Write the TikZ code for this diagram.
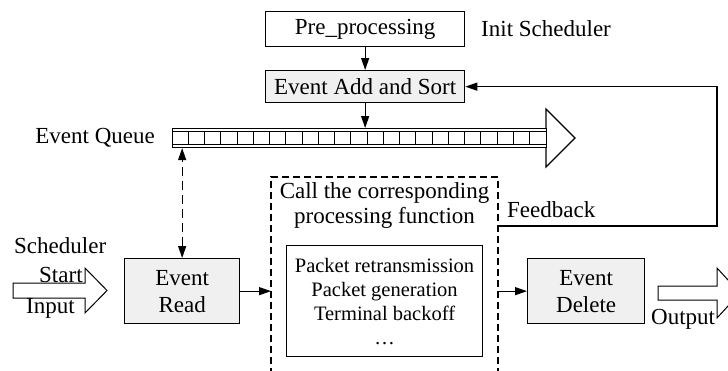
\documentclass[tikz,border=0pt]{standalone}
\usepackage{fontspec}
\setmainfont{Liberation Serif}
\usetikzlibrary{arrows.meta}
\definecolor{boxgray}{gray}{0.94}
\begin{document}
\begin{tikzpicture}[x=1pt,y=-1pt,
  every node/.style={font=\fontsize{23}{27}\selectfont, inner sep=0pt},
  box/.style={draw, line width=1.3pt, rectangle, anchor=north west, align=center},
  graybox/.style={box, fill=boxgray},
  arr/.style={line width=1.2pt, -{Triangle[length=12pt,width=8pt]}},
  dblarr/.style={line width=1.2pt, {Triangle[length=12pt,width=8pt]}-{Triangle[length=12pt,width=8pt]}, dash pattern=on 9pt off 5pt},
  frame/.style={line width=1.2pt, dash pattern=on 7pt off 4pt},
  blockarrow/.style={draw, line width=1pt, fill=white},
  small/.style={font=\fontsize{20.5}{24}\selectfont}
]
\path[use as bounding box] (0,0) rectangle (728,370);
\clip (0,0) rectangle (728,370);

% top boxes
\node[box, minimum width=199pt, minimum height=35pt] (pre) at (265,11) {Pre\_processing};
\node[anchor=base west] (init) at (481,36) {Init Scheduler};
\node[graybox, minimum width=199pt, minimum height=32pt] (addsort) at (265,70) {Event Add and Sort};

% queue arrow head
\draw[line width=1.1pt, fill=white] (546,109) -- (575,138) -- (546,167) -- cycle;
\node[draw, line width=1.1pt, fill=white, anchor=north west, minimum width=374pt, minimum height=19pt] (queue) at (172,128) {};
\draw[line width=1pt] (172,131.5) -- (546,131.5);
\draw[line width=1pt] (172,144) -- (546,144);
\foreach \i in {1,...,22} \draw[line width=1pt] ({172+\i*16.26},131.5) -- ({172+\i*16.26},144);
\node[anchor=base east] (eq) at (155,143) {Event Queue};

\draw[arr] (pre.south) -- (addsort.north);
\draw[arr] (addsort.south) -- (addsort.south |- queue.north);

% event read
\node[graybox, minimum width=115pt, minimum height=65pt] (read) at (124,258) {Event\\Read};
\draw[dblarr] (read.north) -- (read.north |- queue.south);

% left block arrow
\draw[blockarrow] (13,283) -- (85,283) -- (85,268) -- (107,290.5) -- (85,313) -- (85,298) -- (13,298) -- cycle;
\node[anchor=base west] (sched) at (14,253) {Scheduler};
\node[anchor=base west] (start) at (39,282) {Start};
\node[anchor=base west] (input) at (26,313) {Input};

% dashed frame
\coordinate (dbl) at (271,177);
\coordinate (dbr) at (498,177);
\draw[frame] (271,375) -- (dbl) -- (dbr) -- (498,375);
\node[anchor=base] (call1) at (384.5,198) {Call the corresponding};
\node[anchor=base] (call2) at (384.5,223) {processing function};
\node[box, small, line width=1.1pt, minimum width=196pt, minimum height=111pt] (inner) at (286,245) {Packet retransmission\\Packet generation\\Terminal backoff\\\dots};

\draw[arr] (read.east) -- (read.east -| dbl);

% event delete
\node[graybox, minimum width=117pt, minimum height=65pt] (delete) at (527,258) {Event\\Delete};
\draw[arr] (delete.west -| dbr) -- (delete.west);

% feedback
\coordinate (fb) at (498,226);
\draw[arr] (fb) -- (717,226) |- (addsort.east);
\node[anchor=base west] (fbt) at (507,217) {Feedback};

% output block arrow
\draw[blockarrow] (658,286) -- (717,286) -- (717,268) -- (740,293) -- (717,318) -- (717,300) -- (658,300) -- cycle;
\node[anchor=base west] (out) at (651,324) {Output};
\end{tikzpicture}
\end{document}
